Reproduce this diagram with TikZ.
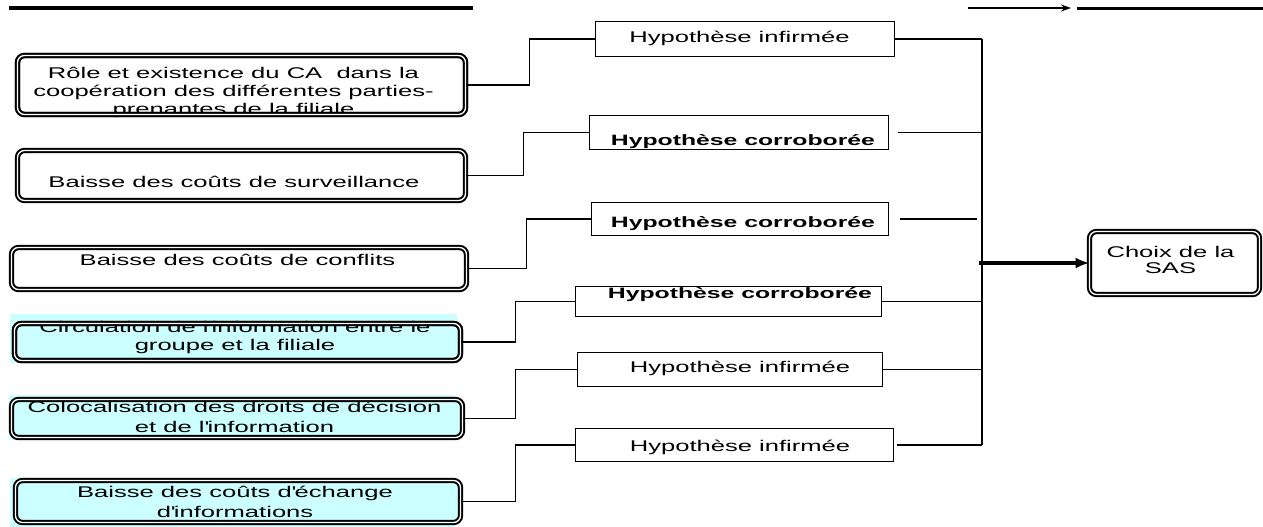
\documentclass[tikz,border=0pt]{standalone}
\usepackage{fontspec}
\setmainfont{Liberation Sans}[FakeStretch=1.65]
\usetikzlibrary{arrows.meta, positioning, calc}
\definecolor{infocyan}{RGB}{204,255,255}

\begin{document}
\begin{tikzpicture}[x=1pt, y=-1pt,
  font=\fontsize{15.5}{19}\selectfont,
  dbox/.style={draw, double=white, line width=2pt, double distance=1.3pt, rounded corners=7pt, fill=white, inner sep=0pt, outer sep=0pt},
  cbox/.style={dbox, fill=infocyan},
  rim/.style={draw, double=white, line width=2pt, double distance=1.3pt, rounded corners=7pt},
  hbox/.style={draw, line width=1.1pt, fill=white, inner sep=0pt, outer sep=0pt},
  txt/.style={anchor=base, inner sep=0pt},
  btxt/.style={txt, font=\fontsize{15}{18}\selectfont\bfseries},
  link/.style={line width=1.1pt}
]
  \useasboundingbox (0,0) rectangle (1263,527);

  % cut-off strokes along the top edge
  \coordinate (tl1) at (9,8);
  \coordinate (tl2) at (473,8);
  \coordinate (ta1) at (968,8);
  \coordinate (ta2) at (1071,8);
  \coordinate (tr1) at (1077,9);
  \coordinate (tr2) at (1263,9);
  \draw[line width=4pt] (tl1) -- (tl2);
  \draw[line width=2.6pt, -{Stealth[length=10pt, width=7pt]}] (ta1) -- (ta2);
  \draw[line width=3pt] (tr1) -- (tr2);

  % cyan backdrops
  \fill[infocyan] (10,314) rectangle (457,363);
  \fill[infocyan] (9,395) rectangle (455,440);
  \fill[infocyan] (10,478) rectangle (455,527);

  % left column: factors
  \node[dbox, minimum width=448pt, minimum height=59pt] (b1) at (241.5,85) {};
  \node[dbox, minimum width=448pt, minimum height=50pt] (b2) at (241.5,175.5) {};
  \node[dbox, minimum width=455pt, minimum height=42pt] (b3) at (239,268.5) {};
  \node[cbox, minimum width=446pt, minimum height=37pt] (b4) at (237.5,342) {};
  \node[cbox, minimum width=451pt, minimum height=38pt] (b5) at (237,418.5) {};
  \node[cbox, minimum width=445pt, minimum height=42pt] (b6) at (238,501.5) {};

  \node[txt] (t1a) at (233.5,78) {Rôle et existence du CA\ \ dans la};
  \node[txt] (t1b) at (233.5,96.5) {coopération des différentes parties-};
  \node[txt] (t1c) at (233.5,114) {prenantes de la filiale};
  \node[txt] (t2) at (234,187) {Baisse des coûts de surveillance};
  \node[txt] (t3) at (237.5,265) {Baisse des coûts de conflits};
  \node[txt] (t4a) at (235,332) {Circulation de l\textquotesingle information entre le};
  \node[txt] (t4b) at (235,350) {groupe et la filiale};
  \node[txt] (t5a) at (234.5,412) {Colocalisation des droits de décision};
  \node[txt] (t5b) at (234.5,432) {et de l\textquotesingle information};
  \node[txt] (t6a) at (235,497) {Baisse des coûts d\textquotesingle échange};
  \node[txt] (t6b) at (235,517) {d\textquotesingle informations};

  % borders over the text that runs into them
  \draw[rim] (b1.north west) rectangle (b1.south east);
  \draw[rim] (b4.north west) rectangle (b4.south east);

  % middle column: results
  \node[hbox, minimum width=299pt, minimum height=35pt] (h1) at (745,39) {};
  \node[hbox, minimum width=299pt, minimum height=34pt] (h2) at (739,132.5) {};
  \node[hbox, minimum width=297pt, minimum height=33pt] (h3) at (740,219) {};
  \node[hbox, minimum width=306pt, minimum height=30pt] (h4) at (728.5,301.5) {};
  \node[hbox, minimum width=305pt, minimum height=34pt] (h5) at (730,369.5) {};
  \node[hbox, minimum width=318pt, minimum height=33pt] (h6) at (734.5,445) {};

  \node[txt] (r1) at (739.5,43) {Hypothèse infirmée};
  \node[btxt] (r2) at (743,145) {Hypothèse corroborée};
  \node[btxt] (r3) at (743,227) {Hypothèse corroborée};
  \node[btxt] (r4) at (740,298) {Hypothèse corroborée};
  \node[txt] (r5) at (740,372) {Hypothèse infirmée};
  \node[txt] (r6) at (740,451) {Hypothèse infirmée};

  \draw[link] (b1.east) -- ++(64,0) |- (h1.west);
  \draw[link] (b2.east) -- ++(58,0) |- (h2.west);
  \draw[link] (b3.east) -- ++(60,0) |- (h3.west);
  \draw[link] (b4.east) -- ++(55,0) |- (h4.west);
  \draw[link] (b5.east) -- ++(53,0) |- (h5.west);
  \draw[link] (b6.east) -- ++(55,0) |- (h6.west);

  % collecting line and outcome
  \coordinate (bt) at (982,39);
  \coordinate (bb) at (982,445);
  \draw[line width=1.4pt] (bt) -- (bb);
  \draw[link] (h1.east) -- (h1.east -| bt);
  \draw[link] ([xshift=9pt]h2.east) -- (h2.east -| bt);
  \draw[link] ([xshift=11pt]h3.east) -- ([xshift=-5pt]h3.east -| bt);
  \draw[link] (h4.east) -- (h4.east -| bt);
  \draw[link] (h5.east) -- (h5.east -| bt);
  \draw[link] ([xshift=3pt]h6.east) -- (h6.east -| bt);

  \node[dbox, minimum width=170pt, minimum height=63pt] (sas) at (1174.5,263) {};
  \node[txt] (s1) at (1170.5,257) {Choix de la};
  \node[txt] (s2) at (1170.5,273.5) {SAS};

  \draw[line width=3.2pt, -{Latex[length=14pt, width=11pt]}] ([xshift=-3pt]sas.west -| bt) -- (sas.west);
\end{tikzpicture}
\end{document}
